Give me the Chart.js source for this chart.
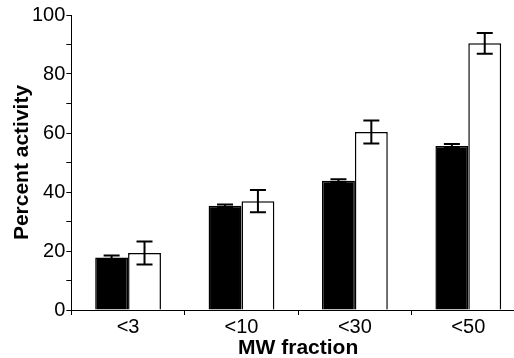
<!DOCTYPE html>
<html>
<head>
<meta charset="utf-8">
<script src="https://cdn.jsdelivr.net/npm/chart.js@4.4.1/dist/chart.umd.min.js"></script>
<style>
  html, body { margin: 0; padding: 0; background: #fff; overflow: hidden; }
  #wrap { width: 530px; height: 358px; position: relative; }
</style>
</head>
<body>
<div id="wrap"><canvas id="c"></canvas></div>
<script>
const categories = ['<3', '<10', '<30', '<50'];
const blackValues = [17.8, 35.3, 43.8, 55.6];
const blackErrors = [0.7, 0.5, 0.5, 0.7];
const whiteValues = [19.3, 36.9, 60.3, 90.4];
const whiteErrors = [3.9, 3.8, 3.9, 3.5];
const yTicks = [0, 20, 40, 60, 80, 100];

const errorBarPlugin = {
  id: 'errorBars',
  afterDatasetsDraw(chart) {
    const ctx = chart.ctx;
    const y = chart.scales.y;
    chart.data.datasets.forEach((ds, di) => {
      const meta = chart.getDatasetMeta(di);
      meta.data.forEach((bar, i) => {
        const v = ds.data[i], e = ds.errors[i];
        const top = y.getPixelForValue(v + e);
        const bot = y.getPixelForValue(v - e);
        ctx.save();
        ctx.strokeStyle = '#000';
        ctx.lineWidth = 2;
        ctx.beginPath();
        ctx.moveTo(bar.x, top); ctx.lineTo(bar.x, bot);
        ctx.moveTo(bar.x - 8, top); ctx.lineTo(bar.x + 8, top);
        ctx.moveTo(bar.x - 8, bot); ctx.lineTo(bar.x + 8, bot);
        ctx.stroke();
        ctx.restore();
      });
    });
  }
};

new Chart(document.getElementById('c'), {
  type: 'bar',
  data: {
    labels: categories,
    datasets: [
      { data: blackValues, errors: blackErrors, backgroundColor: '#000', borderColor: '#000', borderWidth: 1.5,
        categoryPercentage: 0.58, barPercentage: 1.0 },
      { data: whiteValues, errors: whiteErrors, backgroundColor: '#fff', borderColor: '#000', borderWidth: 1.5,
        categoryPercentage: 0.58, barPercentage: 1.0 }
    ]
  },
  options: {
    responsive: true,
    maintainAspectRatio: false,
    animation: false,
    layout: { padding: { left: 12, right: 5, top: 15, bottom: -1 } },
    plugins: { legend: { display: false }, tooltip: { enabled: false } },
    scales: {
      x: {
        offset: true,
        grid: { display: true, offset: true, drawOnChartArea: false, drawTicks: true, tickLength: 5, color: '#000', lineWidth: 1 },
        border: { display: true, color: '#000', width: 1 },
        ticks: { color: '#000', font: { family: 'Liberation Sans, Arial, sans-serif', size: 20, lineHeight: 1.0 }, padding: 2, maxRotation: 0 },
        title: { display: true, text: 'MW fraction', color: '#000',
          font: { family: 'Liberation Sans, Arial, sans-serif', size: 21, weight: 'bold', lineHeight: 1.0 },
          padding: { top: -1, bottom: 0 } }
      },
      y: {
        min: 0, max: 100,
        grid: { display: true, drawOnChartArea: false, drawTicks: true, tickLength: 5, color: '#000', lineWidth: 1 },
        border: { display: true, color: '#000', width: 1 },
        ticks: {
          stepSize: 10, color: '#000', padding: 1,
          font: { family: 'Liberation Sans, Arial, sans-serif', size: 20, lineHeight: 1.0 },
          callback: (v) => yTicks.includes(v) ? String(v) : ''
        },
        title: { display: true, text: 'Percent activity', color: '#000',
          font: { family: 'Liberation Sans, Arial, sans-serif', size: 21, weight: 'bold', lineHeight: 1.0 },
          padding: { top: 0, bottom: -2 } }
      }
    }
  },
  plugins: [errorBarPlugin]
});
</script>
</body>
</html>
